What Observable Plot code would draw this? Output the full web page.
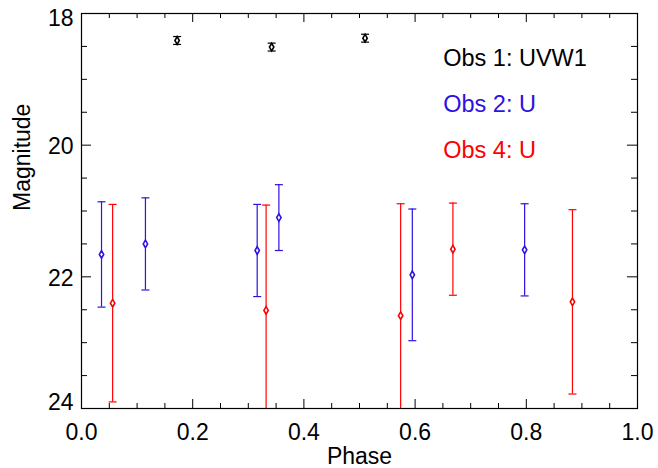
<!DOCTYPE html>
<html>
<head>
<meta charset="utf-8">
<script src="https://cdn.jsdelivr.net/npm/d3@7"></script>
<script src="https://cdn.jsdelivr.net/npm/@observablehq/plot@0.6"></script>
<style>
  html, body { margin: 0; padding: 0; background: white; }
  #chart { width: 658px; height: 468px; }
</style>
</head>
<body>
<div id="chart"></div>
<script>
// ---- data ----
const obs1Phase = [0.172, 0.342, 0.510];
const obs1Mag   = [18.41, 18.51, 18.375];
const obs1Err   = [0.06, 0.06, 0.06];

const obs2Phase = [0.036, 0.115, 0.316, 0.355, 0.595, 0.797];
const obs2Mag   = [21.66, 21.50, 21.60, 21.10, 21.97, 21.59];
const obs2Err   = [0.80, 0.70, 0.70, 0.50, 1.00, 0.70];

const obs4Phase = [0.056, 0.332, 0.574, 0.668, 0.883];
const obs4Mag   = [22.40, 22.51, 22.59, 21.58, 22.38];
const obs4Err   = [1.50, 1.60, 1.70, 0.70, 1.40];

const seriesNames  = ["Obs 1: UVW1", "Obs 2: U", "Obs 4: U"];
const seriesColors = ["#000000", "#2d12e0", "#ff0000"];

const xMajor = [0, 0.2, 0.4, 0.6, 0.8, 1.0];
const xMinor = [0.05, 0.1, 0.15, 0.25, 0.3, 0.35, 0.45, 0.5, 0.55, 0.65, 0.7, 0.75, 0.85, 0.9, 0.95];
const yMajor = [18, 20, 22, 24];
const yMinor = [18.5, 19, 19.5, 20.5, 21, 21.5, 22.5, 23, 23.5];

const legendX = [0.6505, 0.6505, 0.6505];
const legendY = [18.678, 19.388, 20.087];

const xLabel = "Phase";
const yLabel = "Magnitude";

// ---- build table ----
const series = [
  [obs1Phase, obs1Mag, obs1Err],
  [obs2Phase, obs2Mag, obs2Err],
  [obs4Phase, obs4Mag, obs4Err]
];
const pts = [];
series.forEach(([ph, mg, er], s) => {
  ph.forEach((p, i) => pts.push({phase: p, mag: mg[i], lo: mg[i] - er[i], hi: mg[i] + er[i], color: seriesColors[s]}));
});
const caps = pts.flatMap(d => [{phase: d.phase, mag: d.lo, color: d.color}, {phase: d.phase, mag: d.hi, color: d.color}]);
const legend = seriesNames.map((n, i) => ({name: n, x: legendX[i], y: legendY[i], color: seriesColors[i]}));

const capSymbol = {
  draw(ctx, size) {
    const w = Math.sqrt(size / Math.PI);
    ctx.moveTo(-w, 0);
    ctx.lineTo(w, 0);
  }
};

const W = 658, H = 468, mL = 81, mR = 21, mT = 13, mB = 60;
const plotW = W - mL - mR, plotH = H - mT - mB;
const majorLen = 9, minorLen = 5;
const font = "'Liberation Sans', Arial, Helvetica, sans-serif";

const chart = Plot.plot({
  width: W,
  height: H,
  marginLeft: mL,
  marginRight: mR,
  marginTop: mT,
  marginBottom: mB,
  style: {fontFamily: font, fontSize: "23px", color: "black", background: "white", overflow: "visible"},
  x: {domain: [0, 1]},
  y: {domain: [18, 24], reverse: true},
  marks: [
    // error bars
    Plot.ruleX(pts, {x: "phase", y1: "lo", y2: "hi", stroke: "color", strokeWidth: 1.2, clip: true}),
    Plot.dot(caps, {x: "phase", y: "mag", symbol: capSymbol, r: 4, stroke: "color", fill: "none", strokeWidth: 1.2, clip: true}),
    Plot.dot(pts, {x: "phase", y: "mag", symbol: "diamond", r: 2.3, stroke: "color", fill: "white", strokeWidth: 1.6}),
    // inward ticks (bottom/top)
    Plot.ruleX(xMajor, {x: d => d, insetTop: plotH - majorLen, stroke: "black"}),
    Plot.ruleX(xMinor, {x: d => d, insetTop: plotH - minorLen, stroke: "black"}),
    Plot.ruleX(xMajor, {x: d => d, insetBottom: plotH - majorLen, stroke: "black"}),
    Plot.ruleX(xMinor, {x: d => d, insetBottom: plotH - minorLen, stroke: "black"}),
    // inward ticks (left/right)
    Plot.ruleY(yMajor, {y: d => d, insetRight: plotW - majorLen - 1, stroke: "black"}),
    Plot.ruleY(yMinor, {y: d => d, insetRight: plotW - minorLen - 1, stroke: "black"}),
    Plot.ruleY(yMajor, {y: d => d, insetLeft: plotW - majorLen - 1, stroke: "black"}),
    Plot.ruleY(yMinor, {y: d => d, insetLeft: plotW - minorLen - 1, stroke: "black"}),
    Plot.frame({stroke: "black", strokeWidth: 1.2}),
    // tick labels
    Plot.axisX({ticks: xMajor, tickSize: 0, tickPadding: 15, tickFormat: d3.format(".1f"), label: null, fontSize: 23}),
    Plot.axisY({ticks: yMajor.slice(0, 1), tickSize: 0, tickPadding: 8, tickFormat: d => String(d), label: null, fontSize: 23, dy: 5}),
    Plot.axisY({ticks: yMajor.slice(1, 3), tickSize: 0, tickPadding: 8, tickFormat: d => String(d), label: null, fontSize: 23, dy: 1.5}),
    Plot.axisY({ticks: yMajor.slice(3), tickSize: 0, tickPadding: 8, tickFormat: d => String(d), label: null, fontSize: 23, dy: -6}),
    // axis titles
    Plot.text([xLabel], {frameAnchor: "bottom", dy: 48, text: d => d, fontSize: 23, lineAnchor: "middle"}),
    Plot.text([yLabel], {frameAnchor: "left", dx: -58.5, rotate: -90, text: d => d, fontSize: 23, lineAnchor: "middle"}),
    // legend
    Plot.text(legend, {x: "x", y: "y", text: "name", fill: "color", textAnchor: "start", lineAnchor: "middle", fontSize: 23.5})
  ]
});
document.getElementById("chart").appendChild(chart);
</script>
</body>
</html>
